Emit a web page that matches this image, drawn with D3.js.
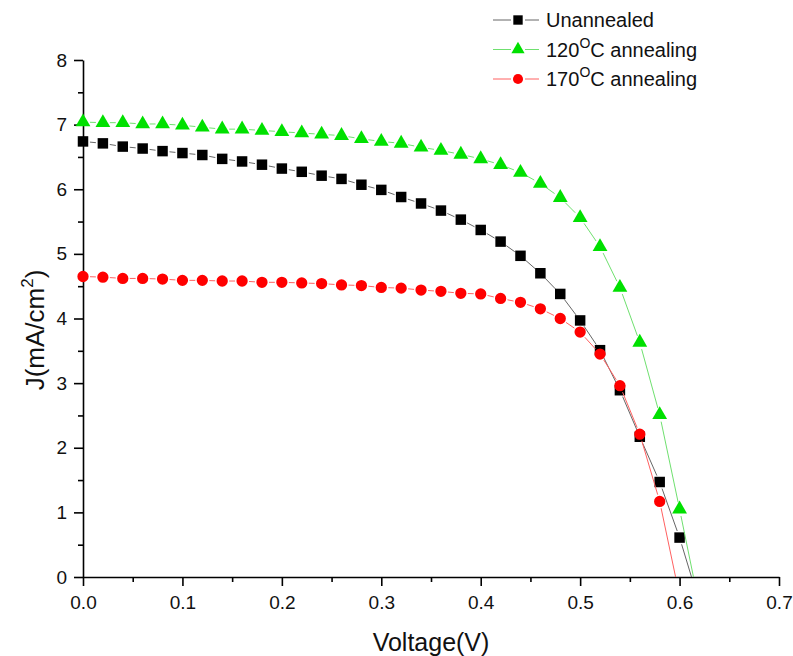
<!DOCTYPE html>
<html>
<head>
<meta charset="utf-8">
<script src="https://cdn.jsdelivr.net/npm/d3@7"></script>
<style>
  body { margin: 0; background: #fff; }
  svg { font-family: "Liberation Sans", Arial, sans-serif; }
</style>
</head>
<body>
<script>
(function() {
  'use strict';

  // J-V data
  const voltage = [0.00, 0.02, 0.04, 0.06, 0.08, 0.10, 0.12, 0.14, 0.16, 0.18,
    0.20, 0.22, 0.24, 0.26, 0.28, 0.30, 0.32, 0.34, 0.36, 0.38,
    0.40, 0.42, 0.44, 0.46, 0.48, 0.50, 0.52, 0.54, 0.56, 0.58, 0.60];
  const unannealed = [6.74, 6.71, 6.66, 6.63, 6.59, 6.56, 6.53, 6.47, 6.43, 6.38,
    6.32, 6.27, 6.21, 6.16, 6.07, 5.99, 5.88, 5.78, 5.67, 5.53,
    5.37, 5.19, 4.97, 4.70, 4.38, 3.97, 3.51, 2.89, 2.17, 1.47, 0.61];
  const annealed120 = [7.04, 7.03, 7.03, 7.01, 7.01, 6.99, 6.96, 6.93, 6.93, 6.91,
    6.89, 6.87, 6.85, 6.83, 6.78, 6.74, 6.71, 6.65, 6.60, 6.54,
    6.47, 6.38, 6.26, 6.09, 5.87, 5.56, 5.11, 4.48, 3.63, 2.51, 1.05];
  const annealed170 = [4.65, 4.64, 4.62, 4.62, 4.61, 4.59, 4.59, 4.58, 4.58, 4.56,
    4.56, 4.55, 4.54, 4.52, 4.51, 4.48, 4.47, 4.44, 4.42, 4.39,
    4.38, 4.31, 4.25, 4.15, 4.00, 3.79, 3.45, 2.96, 2.21, 1.17];
  // open-circuit voltage (where the line meets J = 0)
  const vocUnannealed = 0.612;
  const voc120 = 0.614;
  const voc170 = 0.596;

  const xTicks = [0, 0.1, 0.2, 0.3, 0.4, 0.5, 0.6, 0.7];
  const xMinor = [0.05, 0.15, 0.25, 0.35, 0.45, 0.55, 0.65];
  const yTicks = [0, 1, 2, 3, 4, 5, 6, 7, 8];
  const yMinor = [0.5, 1.5, 2.5, 3.5, 4.5, 5.5, 6.5, 7.5];

  const w = 793;
  const h = 656;

  const xScale = d3.scaleLinear().domain([0, 0.7]).range([83, 779]);
  const yScale = d3.scaleLinear().domain([0, 8]).range([577, 60]);

  const svg = d3.select('body').append('svg')
    .attr('width', w)
    .attr('height', h);

  // axes
  svg.append('g')
    .attr('transform', 'translate(0,' + yScale(0) + ')')
    .call(d3.axisBottom(xScale).tickValues(xTicks).tickSize(9).tickSizeOuter(0)
      .tickPadding(10).tickFormat(d3.format('.1f')));
  svg.append('g')
    .attr('transform', 'translate(0,' + yScale(0) + ')')
    .call(d3.axisBottom(xScale).tickValues(xMinor).tickSize(5).tickFormat(''))
    .select('.domain').remove();

  svg.append('g')
    .attr('transform', 'translate(' + xScale(0) + ',0)')
    .call(d3.axisLeft(yScale).tickValues(yTicks).tickSize(9).tickSizeOuter(0)
      .tickPadding(7).tickFormat(d3.format('d')));
  svg.append('g')
    .attr('transform', 'translate(' + xScale(0) + ',0)')
    .call(d3.axisLeft(yScale).tickValues(yMinor).tickSize(5).tickFormat(''))
    .select('.domain').remove();

  svg.selectAll('.tick line, .domain')
    .attr('stroke', '#000')
    .attr('stroke-width', 1.6);
  svg.selectAll('.tick text')
    .attr('font-size', 19)
    .attr('font-family', '"Liberation Sans", Arial, sans-serif')
    .attr('fill', '#111');

  // axis titles
  svg.append('text')
    .attr('x', 431)
    .attr('y', 651)
    .attr('text-anchor', 'middle')
    .attr('font-size', 25)
    .attr('fill', '#111')
    .text('Voltage(V)');

  const yTitle = svg.append('text')
    .attr('transform', 'translate(44,330) rotate(-90)')
    .attr('text-anchor', 'middle')
    .attr('font-size', 26)
    .attr('fill', '#111');
  yTitle.append('tspan').text('J(mA/cm');
  yTitle.append('tspan').attr('font-size', 17).attr('dy', -11).text('2');
  yTitle.append('tspan').attr('dy', 11).text(')');

  const series = [
    {name: 'Unannealed', sup: null, rest: null, values: unannealed, voc: vocUnannealed,
      color: '#000', line: '#666', symbol: d3.symbolSquare, size: 110, gap: 7},
    {name: '120', sup: 'O', rest: 'C annealing', values: annealed120, voc: voc120,
      color: '#00e000', line: '#6fe06f', symbol: d3.symbolTriangle, size: 95, gap: 7},
    {name: '170', sup: 'O', rest: 'C annealing', values: annealed170, voc: voc170,
      color: '#ff0000', line: '#ff6060', symbol: d3.symbolCircle, size: 100, gap: 7}
  ];

  // draw line segments with a small gap around every symbol, as the original does
  function segments(s) {
    const pts = s.values.map((v, i) => ({x: xScale(voltage[i]), y: yScale(v), m: true}));
    pts.push({x: xScale(s.voc), y: yScale(0), m: false});
    const segs = [];
    for(let i = 0; i < pts.length - 1; i++) {
      const a = pts[i];
      const b = pts[i + 1];
      const dx = b.x - a.x;
      const dy = b.y - a.y;
      const len = Math.sqrt(dx * dx + dy * dy);
      const ga = a.m ? s.gap : 0;
      const gb = b.m ? s.gap : 0;
      if(len <= ga + gb) continue;
      segs.push({
        x1: a.x + dx * ga / len, y1: a.y + dy * ga / len,
        x2: b.x - dx * gb / len, y2: b.y - dy * gb / len
      });
    }
    return segs;
  }

  series.forEach((s) => {
    const g = svg.append('g');
    g.selectAll('line')
      .data(segments(s))
      .enter().append('line')
      .attr('x1', (d) => d.x1).attr('y1', (d) => d.y1)
      .attr('x2', (d) => d.x2).attr('y2', (d) => d.y2)
      .attr('stroke', s.line)
      .attr('stroke-width', 1);
    g.selectAll('path')
      .data(s.values)
      .enter().append('path')
      .attr('d', d3.symbol().type(s.symbol).size(s.size))
      .attr('transform', (d, i) => 'translate(' + xScale(voltage[i]) + ',' + yScale(d) + ')')
      .attr('fill', s.color);
  });

  // legend
  const legend = svg.append('g');
  series.forEach((s, i) => {
    const ly = 20 + i * 29.5;
    const row = legend.append('g').attr('transform', 'translate(0,' + ly + ')');
    row.append('line').attr('x1', 493).attr('x2', 511).attr('y1', 0).attr('y2', 0)
      .attr('stroke', s.line).attr('stroke-width', 1);
    row.append('line').attr('x1', 525).attr('x2', 539).attr('y1', 0).attr('y2', 0)
      .attr('stroke', s.line).attr('stroke-width', 1);
    row.append('path')
      .attr('d', d3.symbol().type(s.symbol).size(s.size * 0.8))
      .attr('transform', 'translate(518,0)')
      .attr('fill', s.color);
    const t = row.append('text')
      .attr('x', 546)
      .attr('y', 7)
      .attr('font-size', 20)
      .attr('fill', '#111');
    t.append('tspan').text(s.name);
    if(s.sup) {
      t.append('tspan').attr('font-size', 14).attr('dy', -9).text(s.sup);
      t.append('tspan').attr('dy', 9).text(s.rest);
    }
  });
}());
</script>
</body>
</html>
